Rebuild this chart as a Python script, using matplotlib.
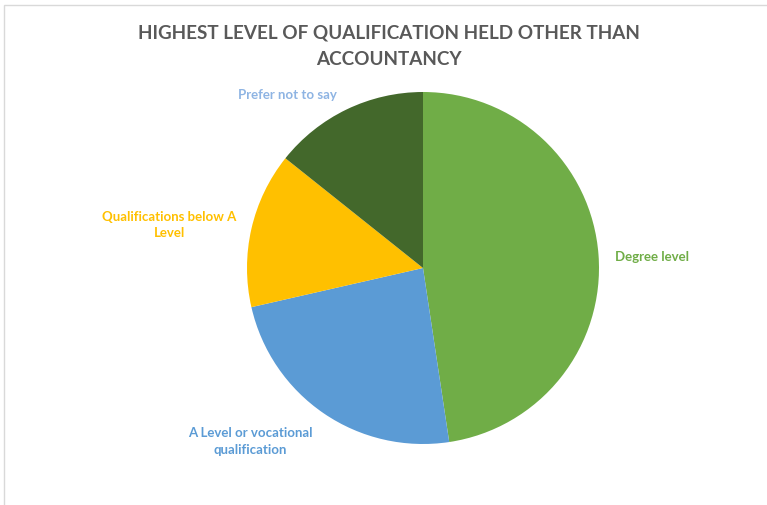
import matplotlib
matplotlib.use("Agg")
from matplotlib import pyplot as plt
from matplotlib.patches import Rectangle

# Slice data (clockwise from 12 o'clock)
categories = ["Degree level", "A Level or vocational\nqualification",
              "Qualifications below A\nLevel", "Prefer not to say"]
values = [10, 5, 3, 3]
colors = ["#70AD47", "#5B9BD5", "#FFC000", "#43682B"]
label_colors = ["#70AD47", "#5B9BD5", "#FFC000", "#8EB4E3"]
label_pos = [(1.30, 0.07), (-0.98, -0.98), (-1.44, 0.25), (-0.77, 0.99)]

plt.rcParams["font.family"] = ["Lato", "DejaVu Sans"]

W, H = 767, 506
fig = plt.figure(figsize=(W / 100, H / 100), dpi=100)

# light chart-area border (top and left visible)
fig.patches.append(Rectangle((4 / W, -0.1), 1.2, (H - 6) / H + 0.1,
                             transform=fig.transFigure, fill=False,
                             edgecolor="#D9D9D9", linewidth=1.0))

cx, cy, r = 423, 269, 176
ax = fig.add_axes([(cx - r) / W, (H - cy - r) / H, 2 * r / W, 2 * r / H])
ax.pie(values, colors=colors, startangle=90, counterclock=False,
       wedgeprops=dict(linewidth=0))
ax.set_xlim(-1, 1)
ax.set_ylim(-1, 1)
ax.set_aspect("equal")
ax.axis("off")

for lab, col, (x, y) in zip(categories, label_colors, label_pos):
    ax.text(x, y, lab, color=col, fontsize=9.5, fontweight="bold",
            ha="center", va="center", linespacing=1.45, clip_on=False)

fig.text(389 / W, 1 - 46 / H, "HIGHEST LEVEL OF QUALIFICATION HELD OTHER THAN\nACCOUNTANCY",
         ha="center", va="center", fontsize=13.6, fontweight="bold",
         color="#595959", linespacing=1.7)

fig.savefig("out.png", dpi=100)
